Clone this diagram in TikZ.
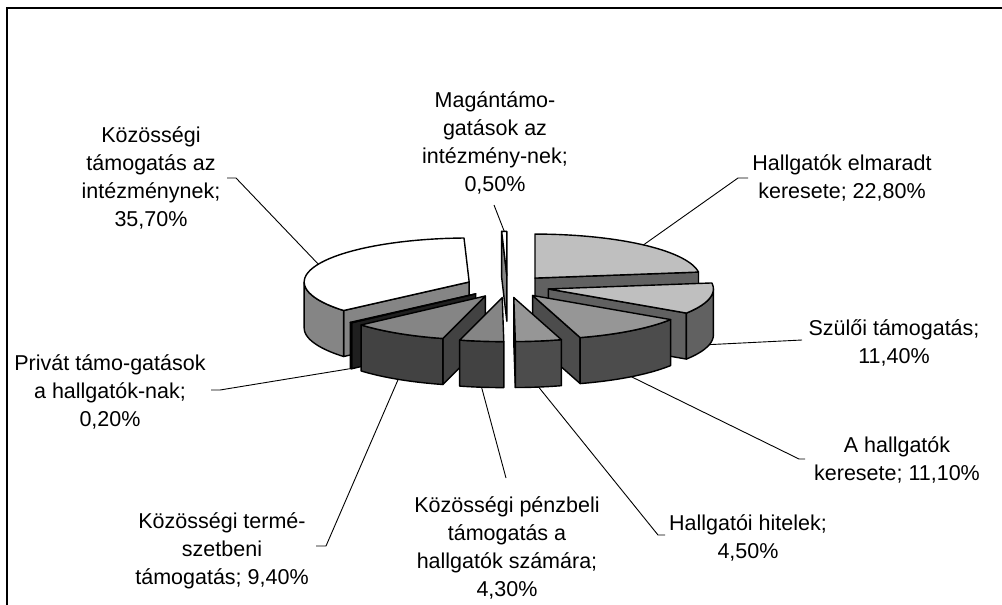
\documentclass[tikz,border=0pt]{standalone}
\usepackage{fontspec}
\setmainfont{Liberation Sans}
\usetikzlibrary{calc}
\def\pcx{507.5}\def\pcy{286.5}\def\pra{165}\def\prb{44}\def\pdep{46}\def\pex{0.254}
\definecolor{lgtop}{gray}{0.75}\definecolor{lgside}{gray}{0.38}
\definecolor{mgtop}{gray}{0.59}\definecolor{mgside}{gray}{0.30}
\definecolor{dgtop}{gray}{0.52}\definecolor{dgside}{gray}{0.26}
\definecolor{bktop}{gray}{0.10}\definecolor{bkside}{gray}{0.12}
\definecolor{whtop}{gray}{1.00}\definecolor{whside}{gray}{0.52}
\newcommand\pslice[5]{%
  \pgfmathsetmacro\pmid{(#1+#2)/2}%
  \pgfmathsetmacro\slAx{\pcx+\pex*\pra*sin(\pmid)}%
  \pgfmathsetmacro\slAy{\pcy-\pex*\prb*cos(\pmid)}%
  \pgfmathsetmacro\sA{sin(#1)}%
  \ifdim\sA pt<-0.001pt
    \filldraw[edge,fill=#4] (\slAx,\slAy) -- ({\slAx+\pra*sin(#1)},{\slAy-\prb*cos(#1)}) -- ++(0,\pdep) -- (\slAx,{\slAy+\pdep}) -- cycle;
  \fi
  \pgfmathsetmacro\sB{sin(#2)}%
  \ifdim\sB pt>0.001pt
    \filldraw[edge,fill=#4] (\slAx,\slAy) -- ({\slAx+\pra*sin(#2)},{\slAy-\prb*cos(#2)}) -- ++(0,\pdep) -- (\slAx,{\slAy+\pdep}) -- cycle;
  \fi
  \pgfmathsetmacro\wlo{max(#1,90)}%
  \pgfmathsetmacro\whi{min(#2,270)}%
  \ifdim\wlo pt<\whi pt
    \filldraw[edge,fill=#4] plot[domain=\wlo:\whi,samples=30] ({\slAx+\pra*sin(\x)},{\slAy-\prb*cos(\x)}) -- plot[domain=\whi:\wlo,samples=30] ({\slAx+\pra*sin(\x)},{\slAy-\prb*cos(\x)+\pdep}) -- cycle;
  \fi
  \filldraw[edge,fill=#3] (\slAx,\slAy) -- plot[domain=#1:#2,samples=40] ({\slAx+\pra*sin(\x)},{\slAy-\prb*cos(\x)}) -- cycle;
  \coordinate (#5-t) at ({\slAx+\pra*sin(\pmid)},{\slAy-\prb*cos(\pmid)});
  \coordinate (#5-b) at ({\slAx+\pra*sin(\pmid)},{\slAy-\prb*cos(\pmid)+\pdep});
}
\begin{document}
\begin{tikzpicture}[x=1pt,y=-1pt,
  edge/.style={draw=black,line width=1.4pt,line join=round},
  leader/.style={draw=black,line width=0.9pt},
  lbl/.style={align=center,inner sep=0pt,font=\fontsize{21.5}{28}\selectfont}]
\useasboundingbox (0,0) rectangle (1002,605);
\fill[white] (0,0) rectangle (1002,605);
\draw[line width=2pt] (1002,8) -- (7,8) -- (7,605);

% labels
\node[lbl] (lmag) at (495,143) {Magántámo-\\gatások az\\intézmény-nek;\\0,50\%};
\node[lbl] (lint) at (151,178) {Közösségi\\támogatás az\\intézménynek;\\35,70\%};
\node[lbl] (lelm) at (842,178) {Hallgatók elmaradt\\keresete; 22,80\%};
\node[lbl] (lszul) at (894,343) {Szülői támogatás;\\11,40\%};
\node[lbl] (lahk) at (897,460) {A hallgatók\\keresete; 11,10\%};
\node[lbl] (lhit) at (748,537.5) {Hallgatói hitelek;\\4,50\%};
\node[lbl] (lpenz) at (507,548) {Közösségi pénzbeli\\támogatás a\\hallgatók számára;\\4,30\%};
\node[lbl] (lterm) at (222,551) {Közösségi termé-\\szetbeni\\támogatás; 9,40\%};
\node[lbl] (lpriv) at (110,392) {Privát támo-gatások\\a hallgatók-nak;\\0,20\%};

% pie slices, back to front
\pslice{358.2}{360}{whtop}{whside}{mag}
\pslice{0}{82.16}{lgtop}{lgside}{elm}
\pslice{229.55}{358.2}{whtop}{whside}{int}
\pslice{82.16}{123.24}{lgtop}{lgside}{szul}
\pslice{228.83}{229.55}{bktop}{bkside}{priv}
\pslice{123.24}{163.24}{mgtop}{mgside}{ahk}
\pslice{194.95}{228.83}{dgtop}{dgside}{term}
\pslice{163.24}{179.46}{mgtop}{mgside}{hit}
\pslice{179.46}{194.95}{dgtop}{dgside}{penz}

% leader end points at the labels
\coordinate (mag-l) at ($(lmag.center)+(-1,62)$);
\coordinate (int-k1) at ($(lint.center)+(76,0)$);
\coordinate (int-k2) at ($(lint.center)+(85,0)$);
\coordinate (elm-k1) at ($(lelm.center)+(-94,0)$);
\coordinate (elm-k2) at ($(lelm.center)+(-104,0)$);
\coordinate (szul-k1) at ($(lszul.center)+(-92,-3)$);
\coordinate (ahk-k1) at ($(lahk.center)+(-92,-1)$);
\coordinate (ahk-k2) at ($(lahk.center)+(-98,-1)$);
\coordinate (hit-k1) at ($(lhit.center)+(-83,-2.5)$);
\coordinate (hit-k2) at ($(lhit.center)+(-90,-2.5)$);
\coordinate (penz-k1) at ($(lpenz.center)+(-1,-70)$);
\coordinate (term-k1) at ($(lterm.center)+(94,-5)$);
\coordinate (term-k2) at ($(lterm.center)+(104,-5)$);
\coordinate (priv-k1) at ($(lpriv.center)+(101,-2)$);
\coordinate (priv-k2) at ($(lpriv.center)+(110,-2)$);

% leaders
\draw[leader] (mag-l) -- (mag-t);
\draw[leader] (int-k1) -- (int-k2) -- (int-t);
\draw[leader] (elm-k1) -- (elm-k2) -- (elm-t);
\draw[leader] (szul-k1) -- (szul-b);
\draw[leader] (ahk-k1) -- (ahk-k2) -- (ahk-b);
\draw[leader] (hit-k1) -- (hit-k2) -- (hit-b);
\draw[leader] (penz-k1) -- (penz-b);
\draw[leader] (term-k1) -- (term-k2) -- (term-b);
\draw[leader] (priv-k1) -- (priv-k2) -- (priv-b);
\end{tikzpicture}
\end{document}
